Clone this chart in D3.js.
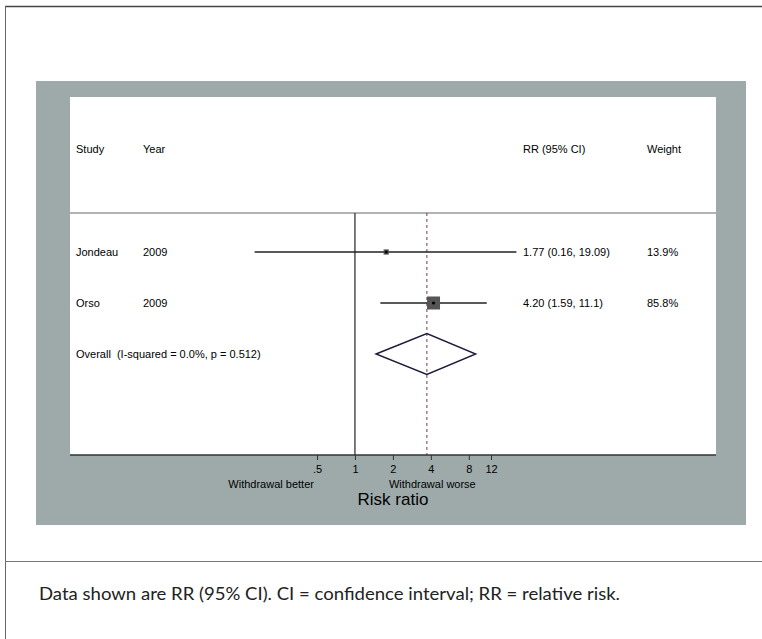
<!DOCTYPE html>
<html>
<head>
<meta charset="utf-8">
<script src="https://cdn.jsdelivr.net/npm/d3@7"></script>
<style>
  html, body { margin: 0; padding: 0; background: #fff; }
  svg { display: block; }
  text { white-space: pre; }
</style>
</head>
<body>
<svg id="chart" width="762" height="639"></svg>
<script>
// Study-level risk ratios with 95% confidence intervals
const studies   = ["Jondeau", "Orso"];
const years     = ["2009", "2009"];
const rr        = [1.77, 4.20];
const ciLow     = [0.16, 1.59];
const ciHigh    = [19.09, 11.1];
const weights   = [13.9, 85.8];
const rrLabels  = ["1.77 (0.16, 19.09)", "4.20 (1.59, 11.1)"];
const weightLabels = ["13.9%", "85.8%"];

// Pooled estimate
const overallLabel = "Overall  (I-squared = 0.0%, p = 0.512)";
const overallRR   = 3.72;
const overallLow  = 1.47;
const overallHigh = 9.08;

// Axis ticks
const tickValues = [0.5, 1, 2, 4, 8, 12];
const tickLabels = [".5", "1", "2", "4", "8", "12"];

const svg = d3.select("#chart");
const font = "'Liberation Sans', Arial, sans-serif";

// Page frame
svg.append("line").attr("x1", 5).attr("x2", 762).attr("y1", 6.5).attr("y2", 6.5)
  .attr("stroke", "#444").attr("stroke-width", 1.3);
svg.append("line").attr("x1", 5.5).attr("x2", 5.5).attr("y1", 6).attr("y2", 639)
  .attr("stroke", "#666").attr("stroke-width", 1);
svg.append("line").attr("x1", 5).attr("x2", 762).attr("y1", 561.5).attr("y2", 561.5)
  .attr("stroke", "#777").attr("stroke-width", 1.2);

// Gray graph region and white plot region
svg.append("rect").attr("x", 36).attr("y", 81).attr("width", 710).attr("height", 444)
  .attr("fill", "#9eaaaa");
svg.append("rect").attr("x", 70).attr("y", 97).attr("width", 646).attr("height", 358)
  .attr("fill", "#fff");

// Scales
const x = d3.scaleLog().domain([0.5, 12]).range([317, 491]);
const rowKeys = studies.concat(["Overall"]);
const y = d3.scalePoint().domain(rowKeys).range([252, 354]);
const boxSize = d3.scaleSqrt().domain([0, 85.8]).range([0, 13]);

const textAttrs = sel => sel.attr("font-family", font).attr("font-size", 11)
  .attr("fill", "#000").attr("dominant-baseline", "central");

// Header
const headerY = 149;
[["Study", 76], ["Year", 143], ["RR (95% CI)", 523], ["Weight", 647]].forEach(([t, xx]) => {
  svg.append("text").attr("x", xx).attr("y", headerY).text(t).call(textAttrs);
});
svg.append("line").attr("x1", 70).attr("x2", 716).attr("y1", 213).attr("y2", 213)
  .attr("stroke", "#9a9a9a").attr("stroke-width", 1.3);

// Null line at RR = 1
svg.append("line").attr("x1", x(1)).attr("x2", x(1)).attr("y1", 213).attr("y2", 455)
  .attr("stroke", "#222").attr("stroke-width", 1.2);

// Dashed line at pooled estimate
svg.append("line").attr("x1", x(overallRR)).attr("x2", x(overallRR)).attr("y1", 213).attr("y2", 455)
  .attr("stroke", "#7a3b45").attr("stroke-width", 1).attr("stroke-dasharray", "3,3");

// Study rows
studies.forEach((s, i) => {
  const yy = y(s);
  svg.append("text").attr("x", 76).attr("y", yy).text(s).call(textAttrs);
  svg.append("text").attr("x", 143).attr("y", yy).text(years[i]).call(textAttrs);
  svg.append("text").attr("x", 523).attr("y", yy).text(rrLabels[i]).call(textAttrs);
  svg.append("text").attr("x", 647).attr("y", yy).text(weightLabels[i]).call(textAttrs);

  svg.append("line").attr("x1", x(ciLow[i])).attr("x2", x(ciHigh[i]))
    .attr("y1", yy).attr("y2", yy).attr("stroke", "#222").attr("stroke-width", 1.4);
  const b = boxSize(weights[i]);
  svg.append("rect").attr("x", x(rr[i]) - b / 2).attr("y", yy - b / 2)
    .attr("width", b).attr("height", b).attr("fill", "#555");
  svg.append("circle").attr("cx", x(rr[i])).attr("cy", yy).attr("r", 1.6).attr("fill", "#000");
});

// Overall row and diamond
const oy = y("Overall");
svg.append("text").attr("x", 76).attr("y", oy).text(overallLabel).call(textAttrs);
const dh = 20.5;
const diamond = [
  [x(overallLow), oy], [x(overallRR), oy - dh], [x(overallHigh), oy], [x(overallRR), oy + dh]
];
svg.append("path").attr("d", d3.line()(diamond) + "Z")
  .attr("fill", "none").attr("stroke", "#1c1c3a").attr("stroke-width", 1.4);

// X axis
svg.append("line").attr("x1", 70).attr("x2", 716).attr("y1", 455).attr("y2", 455)
  .attr("stroke", "#333").attr("stroke-width", 1.3);
const axis = d3.axisBottom(x).tickValues(tickValues)
  .tickFormat((d, i) => tickLabels[i]).tickSizeOuter(0).tickSize(5).tickPadding(5);
const gAxis = svg.append("g").attr("transform", "translate(0,455)").call(axis);
gAxis.select(".domain").remove();
gAxis.selectAll("line").attr("stroke", "#333");
gAxis.selectAll("text").attr("font-family", font).attr("font-size", 11).attr("fill", "#000");

svg.append("text").attr("x", x(1) - 41).attr("y", 484).attr("text-anchor", "end")
  .text("Withdrawal better").call(textAttrs);
svg.append("text").attr("x", x(1) + 34).attr("y", 484)
  .text("Withdrawal worse").call(textAttrs);
svg.append("text").attr("x", 393).attr("y", 499).attr("text-anchor", "middle")
  .attr("font-family", font).attr("font-size", 17).attr("fill", "#000")
  .attr("dominant-baseline", "central").text("Risk ratio");

// Footnote
svg.append("text").attr("x", 39).attr("y", 593).attr("dominant-baseline", "central")
  .attr("font-family", "Lato, 'Open Sans', sans-serif").attr("font-size", 17.5).attr("fill", "#222")
  .attr("textLength", 581).attr("lengthAdjust", "spacingAndGlyphs")
  .text("Data shown are RR (95% CI). CI = confidence interval; RR = relative risk.");
</script>
</body>
</html>
